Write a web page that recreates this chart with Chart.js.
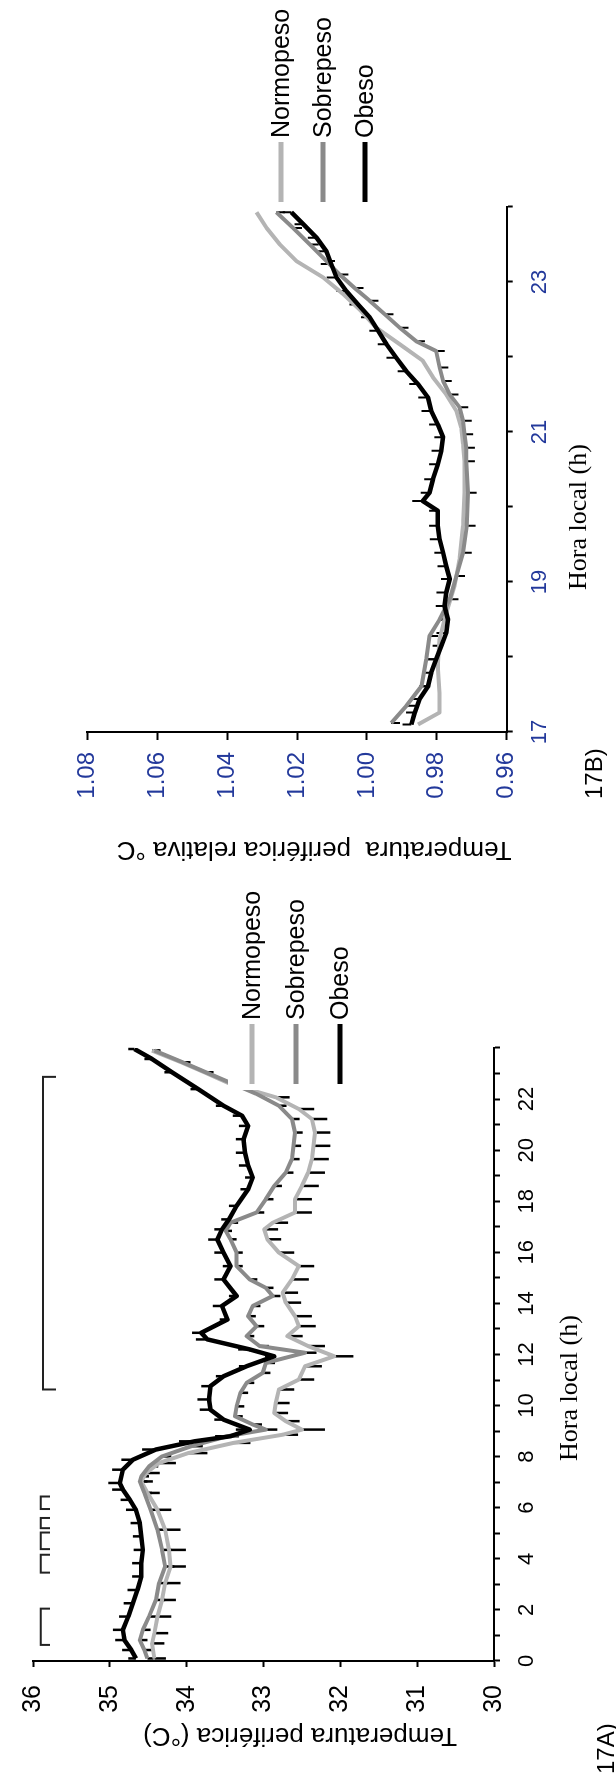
<!DOCTYPE html>
<html>
<head>
<meta charset="utf-8">
<script src="https://cdn.jsdelivr.net/npm/chart.js@4.4.1/dist/chart.umd.min.js"></script>
<style>
  html, body { margin: 0; padding: 0; background: #fff; overflow: hidden; }
  body { width: 616px; height: 1774px; position: relative; }
  /* la figura se compone en horizontal y se gira 90 grados */
  #lienzo { position: absolute; left: 0; top: 1774px; width: 1774px; height: 616px;
            transform-origin: 0 0; transform: rotate(-90deg); }
  #graficoA { position: absolute; left: 0; top: 0; }
  #graficoB { position: absolute; left: 890px; top: 0; }
</style>
</head>
<body>
<div id="lienzo">
  <canvas id="graficoA" width="910" height="616"></canvas>
  <canvas id="graficoB" width="884" height="616"></canvas>
</div>
<script>
// ---- 17A: temperatura periferica (grados C) a lo largo de 24 h ----
const obesoHorasA = [0.1, 0.43, 0.82, 1.22, 1.74, 2.26, 2.78, 3.31, 3.83, 4.35, 4.88, 5.4, 5.92, 6.31, 6.71, 6.97, 7.49, 7.88, 8.28, 8.6, 8.8, 9.06, 9.45, 9.84, 10.24, 10.76, 11.15, 11.54, 11.93, 12.2, 12.59, 12.85, 13.37, 13.9, 14.29, 14.94, 15.46, 15.99, 16.5, 16.9, 17.29, 17.82, 18.47, 18.93, 19.4, 19.9, 20.43, 20.95, 21.35, 21.74, 22.39, 23.05, 23.57, 23.96];
const obesoTempA = [34.66, 34.72, 34.81, 34.83, 34.76, 34.70, 34.64, 34.59, 34.59, 34.57, 34.59, 34.61, 34.66, 34.74, 34.83, 34.87, 34.83, 34.70, 34.40, 33.90, 33.43, 33.18, 33.52, 33.69, 33.71, 33.69, 33.52, 33.22, 32.86, 33.18, 33.73, 33.81, 33.47, 33.54, 33.35, 33.52, 33.43, 33.52, 33.60, 33.54, 33.45, 33.35, 33.20, 33.14, 33.20, 33.24, 33.26, 33.20, 33.28, 33.52, 33.85, 34.19, 34.45, 34.68];
const obesoSemA = [0.10, 0.12, 0.12, 0.13, 0.12, 0.12, 0.13, 0.12, 0.12, 0.12, 0.11, 0.12, 0.13, 0.12, 0.14, 0.15, 0.14, 0.15, 0.18, 0.20, 0.20, 0.18, 0.12, 0.14, 0.15, 0.12, 0.10, 0.10, 0.12, 0.15, 0.15, 0.12, 0.10, 0.12, 0.10, 0.12, 0.10, 0.12, 0.12, 0.10, 0.10, 0.10, 0.10, 0.10, 0.12, 0.12, 0.10, 0.12, 0.12, 0.10, 0.10, 0.10, 0.10, 0.08];

const sobrepesoHorasA = [0.1, 0.43, 0.82, 1.22, 1.74, 2.39, 3.05, 3.7, 4.35, 5.14, 5.92, 6.58, 7.03, 7.23, 7.62, 8.01, 8.41, 8.8, 9.06, 9.26, 9.58, 9.97, 10.5, 10.89, 11.28, 11.67, 12.07, 12.33, 12.72, 13.11, 13.5, 13.9, 14.29, 14.61, 14.94, 15.46, 15.99, 16.51, 16.84, 17.16, 17.56, 18.08, 18.6, 19.12, 19.65, 20.17, 20.69, 21.22, 21.74, 22.2, 22.6, 23.05, 23.44, 23.9];
const sobrepesoTempA = [34.51, 34.55, 34.61, 34.57, 34.49, 34.40, 34.36, 34.28, 34.32, 34.38, 34.47, 34.55, 34.61, 34.59, 34.49, 34.32, 33.94, 33.47, 32.97, 33.14, 33.37, 33.35, 33.30, 33.22, 33.01, 32.97, 32.46, 33.05, 33.22, 33.09, 33.20, 33.14, 32.88, 32.97, 33.18, 33.35, 33.35, 33.43, 33.49, 33.43, 33.09, 32.97, 32.86, 32.71, 32.63, 32.61, 32.59, 32.63, 32.80, 33.09, 33.40, 33.75, 34.05, 34.42];
const sobrepesoSemA = [0.08, 0.10, 0.10, 0.10, 0.10, 0.12, 0.12, 0.12, 0.12, 0.12, 0.10, 0.10, 0.10, 0.10, 0.12, 0.12, 0.15, 0.15, 0.15, 0.12, 0.10, 0.10, 0.10, 0.10, 0.10, 0.12, 0.15, 0.12, 0.10, 0.10, 0.10, 0.10, 0.10, 0.10, 0.10, 0.08, 0.08, 0.08, 0.08, 0.10, 0.10, 0.10, 0.10, 0.10, 0.10, 0.10, 0.10, 0.10, 0.10, 0.08, 0.08, 0.08, 0.08, 0.08];

const normopesoHorasA = [0.1, 0.69, 1.09, 1.74, 2.39, 3.05, 3.7, 4.35, 5.14, 5.92, 6.58, 7.03, 7.36, 7.75, 8.14, 8.54, 8.86, 9.06, 9.39, 9.71, 10.1, 10.63, 11.02, 11.54, 11.93, 12.33, 12.72, 13.11, 13.5, 14.03, 14.42, 14.94, 15.46, 15.99, 16.51, 16.9, 17.16, 17.56, 18.08, 18.6, 19.12, 19.65, 20.17, 20.69, 21.22, 21.61, 22.07, 22.59, 23.05, 23.44, 23.9];
const normopesoTempA = [34.42, 34.45, 34.42, 34.38, 34.32, 34.28, 34.21, 34.23, 34.28, 34.38, 34.51, 34.59, 34.53, 34.36, 33.98, 33.39, 32.75, 32.50, 32.71, 32.86, 32.84, 32.80, 32.54, 32.46, 32.08, 32.42, 32.69, 32.54, 32.59, 32.71, 32.75, 32.63, 32.54, 32.80, 32.95, 32.99, 32.88, 32.59, 32.59, 32.50, 32.42, 32.37, 32.35, 32.33, 32.37, 32.54, 32.84, 33.43, 33.77, 34.07, 34.45];
const normopesoSemA = [0.15, 0.16, 0.18, 0.18, 0.18, 0.20, 0.20, 0.22, 0.20, 0.18, 0.16, 0.15, 0.18, 0.22, 0.25, 0.22, 0.20, 0.30, 0.18, 0.18, 0.18, 0.20, 0.20, 0.22, 0.25, 0.22, 0.20, 0.22, 0.22, 0.20, 0.20, 0.22, 0.20, 0.20, 0.18, 0.18, 0.20, 0.22, 0.22, 0.22, 0.22, 0.22, 0.22, 0.20, 0.20, 0.20, 0.18, 0.15, 0.12, 0.12, 0.10];

// tramos con diferencias significativas (horas) y su altura en grados C
const tramosA = [[0.63, 2.05], [3.46, 4.16], [4.38, 5.03], [5.2, 5.6], [5.95, 6.44], [10.63, 22.87]];
const nivelTramoA = [35.90, 35.90, 35.90, 35.90, 35.90, 35.87];
const puntaTramoA = [35.78, 35.78, 35.78, 35.78, 35.78, 35.70];

// ---- 17B: temperatura periferica relativa, 17-24 h ----
const obesoHorasB = [17.1, 17.26, 17.44, 17.61, 17.79, 17.97, 18.15, 18.32, 18.5, 18.68, 18.86, 19.04, 19.21, 19.39, 19.57, 19.75, 19.95, 20.08, 20.19, 20.37, 20.57, 20.75, 20.93, 21.1, 21.28, 21.46, 21.64, 21.81, 21.99, 22.17, 22.35, 22.53, 22.7, 22.88, 23.06, 23.24, 23.41, 23.59, 23.77, 23.93];
const obesoRelB = [0.9873, 0.9863, 0.9849, 0.9825, 0.9816, 0.9802, 0.9787, 0.9773, 0.9768, 0.9778, 0.9773, 0.9763, 0.9773, 0.9782, 0.9792, 0.9797, 0.9797, 0.9840, 0.9821, 0.9811, 0.9797, 0.9787, 0.9782, 0.9797, 0.9816, 0.9825, 0.9854, 0.9887, 0.9916, 0.9944, 0.9968, 0.9992, 1.0025, 1.0059, 1.0087, 1.0102, 1.0116, 1.0144, 1.0182, 1.0216];
const obesoSemB = [0.0025, 0.0025, 0.0028, 0.0025, 0.0025, 0.0025, 0.0025, 0.0028, 0.0025, 0.0025, 0.0028, 0.0025, 0.0025, 0.0025, 0.0028, 0.0025, 0.0025, 0.0030, 0.0025, 0.0025, 0.0025, 0.0028, 0.0025, 0.0025, 0.0028, 0.0028, 0.0025, 0.0025, 0.0028, 0.0025, 0.0025, 0.0025, 0.0025, 0.0028, 0.0028, 0.0030, 0.0025, 0.0025, 0.0025, 0.0025];

const sobrepesoHorasB = [17.12, 17.35, 17.61, 17.97, 18.28, 18.5, 18.77, 19.08, 19.39, 19.75, 20.19, 20.61, 20.79, 20.97, 21.15, 21.33, 21.5, 21.68, 21.86, 22.08, 22.21, 22.39, 22.57, 22.75, 22.92, 23.1, 23.28, 23.5, 23.72, 23.93];
const sobrepesoRelB = [0.9930, 0.9887, 0.9844, 0.9830, 0.9821, 0.9792, 0.9763, 0.9744, 0.9725, 0.9714, 0.9711, 0.9716, 0.9716, 0.9721, 0.9725, 0.9735, 0.9763, 0.9782, 0.9792, 0.9802, 0.9859, 0.9906, 0.9949, 0.9992, 1.0035, 1.0078, 1.0116, 1.0163, 1.0211, 1.0259];
const sobrepesoSemB = [0.0025, 0.0025, 0.0025, 0.0025, 0.0025, 0.0025, 0.0025, 0.0025, 0.0025, 0.0025, 0.0025, 0.0025, 0.0025, 0.0025, 0.0025, 0.0025, 0.0025, 0.0025, 0.0025, 0.0025, 0.0025, 0.0025, 0.0025, 0.0025, 0.0025, 0.0025, 0.0025, 0.0025, 0.0025, 0.0025];

const normopesoHorasB = [17.1, 17.26, 17.52, 17.88, 18.24, 18.59, 18.95, 19.3, 19.75, 20.19, 20.61, 20.84, 21.06, 21.28, 21.5, 21.73, 21.95, 22.17, 22.39, 22.61, 22.84, 23.06, 23.28, 23.5, 23.72, 23.93];
const normopesoRelB = [0.9854, 0.9792, 0.9792, 0.9797, 0.9792, 0.9773, 0.9749, 0.9735, 0.9725, 0.9721, 0.9721, 0.9725, 0.9730, 0.9744, 0.9773, 0.9811, 0.9840, 0.9906, 0.9973, 1.0016, 1.0068, 1.0125, 1.0202, 1.0249, 1.0287, 1.0316];

const grupos = ['Normopeso', 'Sobrepeso', 'Obeso'];
const colores = { Normopeso: '#b4b4b4', Sobrepeso: '#8a8a8a', Obeso: '#000000' };

const puntos = (horas, valores) => horas.map((h, i) => ({ x: h, y: valores[i] }));

Chart.defaults.font.family = "'Liberation Sans', Arial, sans-serif";
Chart.defaults.color = '#000';

// barras de error (EEM): hacia arriba para obesos, hacia abajo para el resto
const barrasError = {
  id: 'barrasError',
  beforeDatasetsDraw(chart, args, o) {
    const ctx = chart.ctx, xs = chart.scales.x, ys = chart.scales.y;
    ctx.save();
    ctx.strokeStyle = '#000';
    ctx.lineWidth = o.grosor || 2;
    chart.data.datasets.forEach(ds => {
      if (!ds.sem) return;
      ds.data.forEach((p, i) => {
        const px = xs.getPixelForValue(p.x);
        ctx.beginPath();
        ctx.moveTo(px, ys.getPixelForValue(p.y));
        ctx.lineTo(px, ys.getPixelForValue(p.y + ds.semDir * ds.sem[i]));
        ctx.stroke();
      });
    });
    ctx.restore();
  }
};

// corchetes de significacion sobre la grafica
const corchetes = {
  id: 'corchetes',
  afterDatasetsDraw(chart, args, opts) {
    if (!opts.tramos) return;
    const ctx = chart.ctx, xs = chart.scales.x, ys = chart.scales.y;
    ctx.save();
    ctx.strokeStyle = '#222';
    ctx.lineWidth = 2;
    opts.tramos.forEach(([a, b], i) => {
      const yl = ys.getPixelForValue(opts.nivel[i]);
      const yp = ys.getPixelForValue(opts.punta[i]);
      ctx.beginPath();
      ctx.moveTo(xs.getPixelForValue(a), yp);
      ctx.lineTo(xs.getPixelForValue(a), yl);
      ctx.lineTo(xs.getPixelForValue(b), yl);
      ctx.lineTo(xs.getPixelForValue(b), yp);
      ctx.stroke();
    });
    ctx.restore();
  }
};

// leyenda propia, con fondo blanco sobre las curvas
const leyenda = {
  id: 'leyenda',
  afterDatasetsDraw(chart, args, o) {
    const ctx = chart.ctx;
    ctx.save();
    ctx.fillStyle = '#fff';
    ctx.fillRect(o.x - 6, o.y - 24, 240, 140);
    grupos.forEach((g, i) => {
      const y = o.y + i * o.paso[i];
      ctx.strokeStyle = colores[g];
      ctx.lineWidth = 5;
      ctx.beginPath();
      ctx.moveTo(o.x, y);
      ctx.lineTo(o.x + 60, y);
      ctx.stroke();
      ctx.fillStyle = '#000';
      ctx.font = "25px 'Liberation Sans', Arial, sans-serif";
      ctx.textBaseline = 'middle';
      ctx.textAlign = 'left';
      ctx.fillText(g, o.x + 64, y + 1);
    });
    ctx.restore();
  }
};

// titulos de ejes y rotulos del panel
const rotulos = {
  id: 'rotulos',
  afterDraw(chart, args, o) {
    const ctx = chart.ctx;
    ctx.save();
    ctx.fillStyle = '#000';
    ctx.textBaseline = 'alphabetic';
    ctx.textAlign = 'center';
    ctx.font = "26px 'Liberation Sans', Arial, sans-serif";
    ctx.translate(o.yTitulo.x, o.yTitulo.y);
    ctx.rotate(-Math.PI / 2);
    ctx.fillText(o.yTitulo.texto, 0, 0);
    ctx.restore();

    ctx.save();
    ctx.fillStyle = '#000';
    ctx.textAlign = 'center';
    ctx.font = "26px 'Liberation Serif', 'Times New Roman', serif";
    ctx.fillText('Hora local (h)', o.xTitulo.x, o.xTitulo.y);
    ctx.textAlign = 'left';
    ctx.font = "24px 'Liberation Sans', Arial, sans-serif";
    ctx.fillText(o.panel.texto, o.panel.x, o.panel.y);
    ctx.restore();
  }
};

function ejes(xMin, xMax, etiquetaHora, yMin, yMax, yPaso, opc) {
  const marca = { display: true, drawOnChartArea: false, drawTicks: true, tickLength: opc.marca, tickWidth: 2, color: '#000' };
  return {
    x: {
      type: 'linear', min: xMin, max: xMax,
      afterFit: s => { s.height = opc.altoX; },
      grid: Object.assign({}, marca, { tickLength: 6 }),
      border: { display: true, color: '#000', width: 2 },
      ticks: { stepSize: 1, autoSkip: false, maxRotation: 0, padding: opc.padX, color: opc.color,
               font: { size: opc.fuenteX, family: opc.familiaX }, callback: etiquetaHora }
    },
    y: {
      min: yMin, max: yMax,
      afterFit: s => { s.width = opc.anchoY; },
      grid: marca,
      border: { display: true, color: '#000', width: 2 },
      ticks: { stepSize: yPaso, padding: opc.padY, color: opc.color,
               font: { size: opc.fuenteY, family: opc.familiaY }, callback: opc.formatoY }
    }
  };
}

function series(datos) {
  return ['Obeso', 'Sobrepeso', 'Normopeso'].map(g => ({
    label: g,
    data: datos[g].data,
    sem: datos[g].sem,
    semDir: g === 'Obeso' ? 1 : -1,
    borderColor: colores[g],
    borderWidth: g === 'Obeso' ? 4.5 : 4,
    borderJoinStyle: 'round',
    pointRadius: 0,
    tension: 0,
    fill: false
  }));
}

const narrow = "'Liberation Sans Narrow', 'Liberation Sans', Arial, sans-serif";

new Chart(document.getElementById('graficoA'), {
  type: 'line',
  data: {
    datasets: series({
      Obeso: { data: puntos(obesoHorasA, obesoTempA), sem: obesoSemA },
      Sobrepeso: { data: puntos(sobrepesoHorasA, sobrepesoTempA), sem: sobrepesoSemA },
      Normopeso: { data: puntos(normopesoHorasA, normopesoTempA), sem: normopesoSemA }
    })
  },
  options: {
    responsive: false, animation: false, devicePixelRatio: 1,
    layout: { padding: { left: 0, top: 20.7, right: 184, bottom: 0 } },
    plugins: {
      legend: { display: false }, tooltip: { enabled: false },
      barrasError: { grosor: 2.5 },
      corchetes: { tramos: tramosA, nivel: nivelTramoA, punta: puntaTramoA },
      leyenda: { x: 690, y: 252, paso: [44, 44, 44] },
      rotulos: {
        yTitulo: { texto: 'Temperatura periférica (°C)', x: 46, y: 300 },
        xTitulo: { x: 386, y: 577 },
        panel: { texto: '17A)', x: 0, y: 614 }
      }
    },
    scales: ejes(0, 24, v => (v % 2 === 0 && v < 24) ? String(v) : '', 30, 36, 1, {
      altoX: 122, anchoY: 113, marca: 6, padX: 14, padY: 18, color: '#000',
      fuenteX: 22, familiaX: narrow, fuenteY: 25, familiaY: narrow, formatoY: v => String(v)
    })
  },
  plugins: [barrasError, corchetes, leyenda, rotulos]
});

new Chart(document.getElementById('graficoB'), {
  type: 'line',
  data: {
    datasets: series({
      Obeso: { data: puntos(obesoHorasB, obesoRelB), sem: obesoSemB },
      Sobrepeso: { data: puntos(sobrepesoHorasB, sobrepesoRelB), sem: sobrepesoSemB },
      Normopeso: { data: puntos(normopesoHorasB, normopesoRelB), sem: null }
    })
  },
  options: {
    responsive: false, animation: false, devicePixelRatio: 1,
    layout: { padding: { left: 0, top: 87.3, right: 207, bottom: 0 } },
    plugins: {
      legend: { display: false }, tooltip: { enabled: false },
      barrasError: { grosor: 2 },
      leyenda: { x: 682, y: 281, paso: [44, 42, 42] },
      rotulos: {
        yTitulo: { texto: 'Temperatura  periférica relativa °C', x: 42, y: 314 },
        xTitulo: { x: 367, y: 586 },
        panel: { texto: '17B)', x: 85, y: 602 }
      }
    },
    scales: ejes(17, 24, v => (v % 2 === 1 && v < 24) ? String(v) : '', 0.96, 1.08, 0.02, {
      altoX: 109.3, anchoY: 152, marca: 8, padX: 14, padY: 12, color: '#23399b',
      fuenteX: 22, familiaX: "'Liberation Sans', Arial, sans-serif", fuenteY: 24,
      familiaY: "'Liberation Sans', Arial, sans-serif", formatoY: v => v.toFixed(2)
    })
  },
  plugins: [barrasError, leyenda, rotulos]
});
</script>
</body>
</html>
